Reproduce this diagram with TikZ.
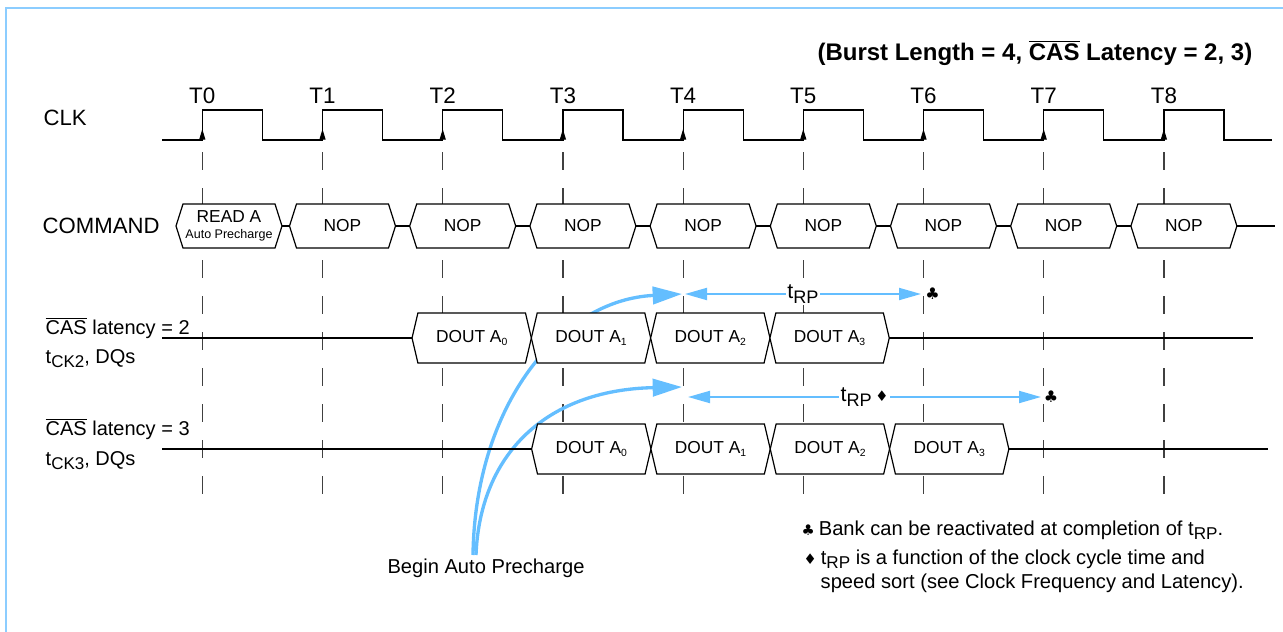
\documentclass[tikz,border=0pt]{standalone}
\usepackage{fontspec}
\setmainfont{Liberation Sans}
\newfontfamily\symfont{DejaVu Sans}
\usetikzlibrary{arrows.meta, shapes.symbols, positioning}
\definecolor{rpblue}{RGB}{100,190,255}
\definecolor{frameblue}{RGB}{140,205,255}
\newcommand{\lsub}[1]{\raisebox{-0.45ex}{\scalebox{0.85}{#1}}}
\newcommand{\dsub}[1]{\raisebox{-0.3ex}{\scalebox{0.6}{#1}}}

\begin{document}
\begin{tikzpicture}[
    x=0.75pt, y=-0.75pt,
    font=\fontsize{15}{18}\selectfont,
    wave/.style={line width=0.9pt},
    cmdbox/.style={signal, signal to=east and west, signal pointer angle=144.7, draw, fill=white, line width=0.9pt,
        inner sep=0pt, outer sep=0pt, minimum width=79.5pt, minimum height=33pt, font=\fontsize{13}{15}\selectfont},
    doutbox/.style={cmdbox, signal pointer angle=153.5, minimum width=89.5pt, minimum height=37.5pt},
    gridline/.style={black!75, line width=0.9pt, dash pattern=on 13.5pt off 13.5pt},
    rp/.style={rpblue, line width=1.5pt, {Triangle[length=16.5pt,width=9pt]}-{Triangle[length=16.5pt,width=9pt]}},
    ap/.style={rpblue, line width=2.5pt, -{Triangle[length=22pt,width=13pt]}},
    rplabel/.style={fill=white, text=black, inner sep=1pt, font=\fontsize{16}{18}\selectfont},
    club/.style={inner sep=0pt, font=\symfont\fontsize{12}{14}\selectfont},
    note/.style={anchor=base west, font=\fontsize{15.1}{18}\selectfont}
]
    \useasboundingbox (0,0) rectangle (1283,632);
    \draw[frameblue, line width=1.5pt] (6,632) -- (6,8) -- (1283,8);

    % Title
    \node[anchor=base east, font=\bfseries\fontsize{18}{21}\selectfont] (title) at (1257,60)
        {(Burst Length = 4, $\overline{\mbox{CAS}}$ Latency = 2, 3)};

    % Row labels
    \node[anchor=base west, font=\fontsize{16.6}{19}\selectfont] (clk) at (39,125) {CLK};
    \node[anchor=base west, font=\fontsize{16.6}{19}\selectfont] (command) at (38,233) {COMMAND};
    \node[anchor=base west] (cas2) at (41,334) {$\overline{\mbox{CAS}}$ latency = 2};
    \node[anchor=base west] (dq2) at (41,363) {t\lsub{CK2}, DQs};
    \node[anchor=base west] (cas3) at (41,435) {$\overline{\mbox{CAS}}$ latency = 3};
    \node[anchor=base west] (dq3) at (41,465) {t\lsub{CK3}, DQs};

    % Clock edges
    \foreach \k in {0,...,8} {
        \draw[gridline] ({202.3+120.2*\k},152) -- ({202.3+120.2*\k},494);
        \node[anchor=base, font=\fontsize{16.8}{19}\selectfont] (T\k) at ({202.3+120.2*\k},103) {T\k};
        \draw[wave, -{Triangle[length=8pt,width=4.5pt]}] ({202.3+120.2*\k},140) -- ++(0,-11);
    }
    \draw[wave] (162,140) \foreach \k in {0,...,8} {
        -- ({202.3+120.2*\k},140) -- ++(0,-30) -- ++(60.1,0) -- ++(0,30) } -- (1272,140);

    % Begin auto precharge
    \node[anchor=base, font=\fontsize{15.1}{18}\selectfont] (bap) at (486,573) {Begin Auto Precharge};
    \coordinate (bapa) at (473,555);
    \coordinate (bapb) at (476,555);
    \coordinate (rpa) at (682,294);
    \coordinate (rpb) at (682,387);
    \draw[ap] (bapa) .. controls (475,405) and (560,300) .. (rpa);
    \draw[ap] (bapb) .. controls (480,455) and (545,390) .. (rpb);

    % Command bus
    \node[cmdbox, align=center] (cmd0) at (229,226)
        {READ A\\[-3pt]{\fontsize{9.4}{10}\selectfont Auto Precharge}};
    \foreach \k in {1,...,8}
        \node[cmdbox] (cmd\k) at ({222.3+120.2*\k},226) {NOP};
    \foreach \k [evaluate=\k as \j using int(\k-1)] in {1,...,8}
        \draw[wave] (cmd\j.east) -- (cmd\k.west);
    \coordinate (cmdend) at (1275,226);
    \draw[wave] (cmd8.east) -- (cmdend);

    % CAS latency = 2
    \coordinate (twoL) at (162,338);
    \coordinate (twoR) at (1253,338);
    \foreach \k in {0,...,3}
        \node[doutbox] (ltwo\k) at ({471.7+119.3*\k},338) {DOUT A\dsub{\k}};
    \draw[wave] (twoL) -- (ltwo0.west);
    \draw[wave] (ltwo3.east) -- (twoR);

    % CAS latency = 3
    \coordinate (threeL) at (162,449);
    \coordinate (threeR) at (1268,449);
    \foreach \k in {0,...,3}
        \node[doutbox] (lthree\k) at ({591.3+119.3*\k},449) {DOUT A\dsub{\k}};
    \draw[wave] (threeL) -- (lthree0.west);
    \draw[wave] (lthree3.east) -- (threeR);

    % tRP
    \coordinate (rp1s) at (685,294);
    \coordinate (rp1e) at (921,294);
    \coordinate (rp2s) at (688,397);
    \coordinate (rp2e) at (1041,397);
    \draw[rp] (rp1s) -- node[rplabel] (trp1) {t\lsub{RP}} (rp1e);
    \draw[rp] (rp2s) -- node[rplabel] (trp2) {t\lsub{RP}\,{\symfont\fontsize{11}{12}\selectfont ♦}} (rp2e);
    \node[club, right=3pt of rp1e] (club1) {♣};
    \node[club, right=2pt of rp2e] (club2) {♣};

    % Notes
    \node[note] (note1) at (797,535)
        {{\symfont\fontsize{11}{12}\selectfont ♣}\hspace{3pt}Bank can be reactivated at completion of t\lsub{RP}.};
    \node[note] (note2) at (799,564)
        {{\symfont\fontsize{11}{12}\selectfont ♦}\hspace{3pt}t\lsub{RP} is a function of the clock cycle time and};
    \node[note] (note3) at (816,588) {speed sort (see Clock Frequency and Latency).};
\end{tikzpicture}
\end{document}
